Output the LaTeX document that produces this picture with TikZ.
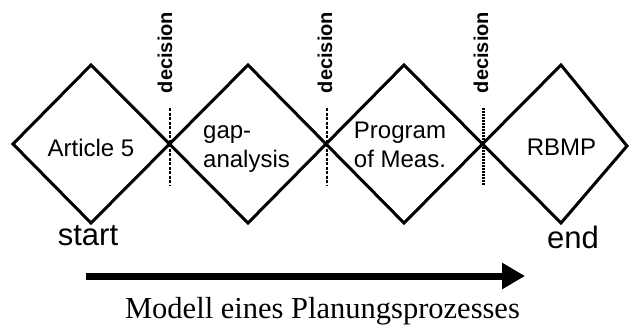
\documentclass[tikz,border=0pt]{standalone}
\usepackage{fontspec}
\setmainfont{Liberation Sans}
\newfontfamily\capfont{Liberation Serif}
\usetikzlibrary{arrows.meta}
\tikzset{
  dia/.style={line width=3pt, line join=miter},
  lbl/.style={inner sep=0pt, font=\fontsize{24}{29}\selectfont},
  dec/.style={inner sep=0pt, rotate=90, anchor=base, font=\fontsize{20}{24}\selectfont\bfseries},
  decline/.style={line width=1.6pt, dash pattern=on 3pt off 1.5pt},
  declinethick/.style={line width=3pt, dash pattern=on 2pt off 1pt},
  endlbl/.style={inner sep=0pt, anchor=base, font=\fontsize{31}{36}\selectfont},
}
\begin{document}
\begin{tikzpicture}[x=1pt, y=-1pt]
\useasboundingbox (0,0) rectangle (629,324);
% diamonds
\draw[dia] (13,144) -- (91,65) -- (169.5,144) -- (91,223) -- cycle;
\draw[dia] (169.5,144) -- (248,65) -- (326,144) -- (248,223) -- cycle;
\draw[dia] (326,144) -- (404,65) -- (482.5,144) -- (404,223) -- cycle;
\draw[dia] (482.5,144) -- (561,65) -- (627,146) -- (561,223) -- cycle;
% texts
\node[lbl, anchor=base] (t1) at (91,156) {Article 5};
\node[lbl, anchor=base west, align=left] (t2) at (203,167) {gap-\\analysis};
\node[lbl, anchor=base, align=center] (t3) at (400,167) {Program\\of Meas.};
\node[lbl, anchor=base] (t4) at (561.5,155) {RBMP};
% decision marks
\coordinate (c1a) at (170,108); \coordinate (c1b) at (170,185);
\coordinate (c2a) at (327,108); \coordinate (c2b) at (327,185);
\coordinate (c3a) at (483,108); \coordinate (c3b) at (483,185);
\draw[decline] (c1a) -- (c1b);
\draw[decline] (c2a) -- (c2b);
\draw[declinethick] (c3a) -- (c3b);
\node[dec] (d1) at (172,52.5) {decision};
\node[dec] (d2) at (332,52.5) {decision};
\node[dec] (d3) at (488,52.5) {decision};
% start / end
\node[endlbl] (s) at (88,245) {start};
\node[endlbl] (e) at (573,248) {end};
% arrow
\coordinate (a1) at (86,276);
\coordinate (a2) at (525,276);
\draw[line width=7pt, -{Triangle[length=23pt,width=25pt]}] (a1) -- (a2);
% caption
\node[inner sep=0pt, anchor=base, font=\capfont\fontsize{30.5}{34}\selectfont] (cap) at (322.5,318) {Modell eines Planungsprozesses};
\end{tikzpicture}
\end{document}
